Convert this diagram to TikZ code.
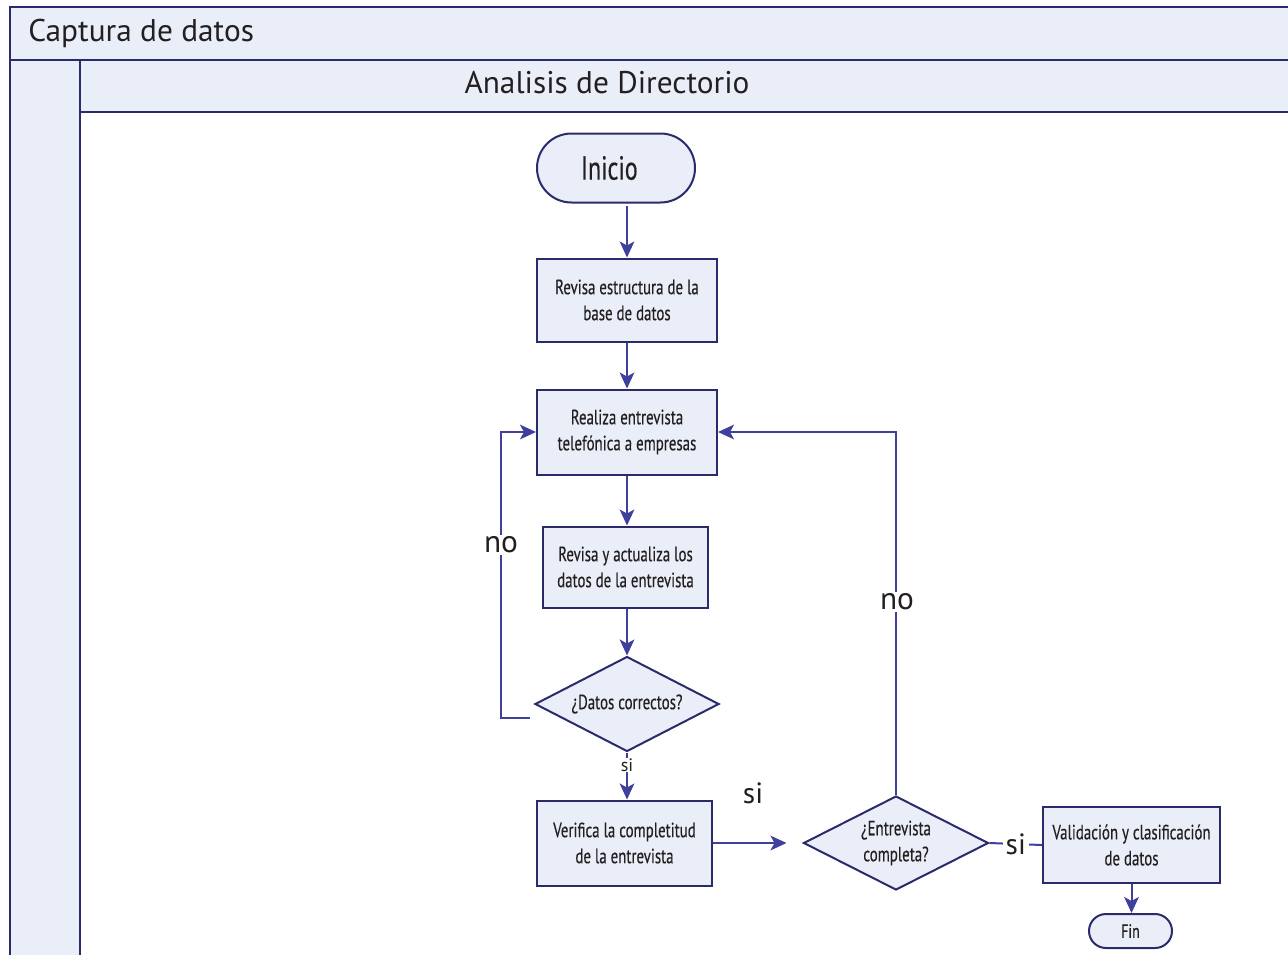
\documentclass[tikz,border=0pt]{standalone}
\usepackage{fontspec}
\setmainfont{PT Sans}
\newfontfamily\condf[FakeStretch=0.72,FakeBold=0.3]{PT Sans}
\usetikzlibrary{shapes.geometric,shapes.misc,arrows.meta}
\definecolor{bordc}{HTML}{2B2B6B}
\definecolor{fillc}{HTML}{E9EEF8}
\definecolor{linec}{HTML}{3F3F9C}
\definecolor{txtc}{HTML}{231F20}
\begin{document}
\begin{tikzpicture}[x=0.75pt,y=-0.75pt,
  box/.style={draw=bordc, fill=fillc, line width=1.5pt, inner sep=0pt, align=center,
    text=txtc, font=\condf\fontsize{15.5}{19.5}\selectfont},
  proc/.style={box, rectangle},
  term/.style={box, rounded rectangle},
  dec/.style={box, diamond},
  conn/.style={draw=linec, line width=1.5pt, -{Stealth[length=12pt,width=11pt,inset=3pt]}},
  plain/.style={draw=linec, line width=1.5pt},
  lbl/.style={fill=white, inner sep=1pt, text=txtc, font=\fontsize{23.5}{23.5}\selectfont},
  slbl/.style={fill=white, inner sep=0.5pt, text=txtc, font=\fontsize{13.5}{13.5}\selectfont},
  lane/.style={draw=bordc, line width=1.9pt, fill=fillc},
  head/.style={text=txtc, font=\fontsize{23.5}{23.5}\selectfont, inner sep=0pt},
]
\useasboundingbox (0,0) rectangle (1288,954);
\begin{scope}
\clip (0,0) rectangle (1288,954);
\path[fill=white] (0,0) rectangle (1288,954);
\path[lane] (10,7) rectangle (1310,60);
\path[lane] (10,60) rectangle (80,980);
\path[lane] (80,60) rectangle (1310,112);
\end{scope}
\node[head, anchor=base west] (pool) at (28,41) {Captura de datos};
\node[head, anchor=base] (lanet) at (607,93) {Analisis de Directorio};

\node[term, minimum width=118.5pt, minimum height=51.75pt,
  font=\condf\fontsize{25}{25}\selectfont] (ini) at (616,168) {Inicio\hspace*{10pt}};
\node[proc, minimum width=135pt, minimum height=62.25pt] (rev) at (627,300)
  {Revisa estructura de la\\base de datos};
\node[proc, minimum width=135pt, minimum height=63.75pt] (real) at (627,432)
  {Realiza entrevista\\telefónica a empresas};
\node[proc, minimum width=123.75pt, minimum height=60.75pt] (act) at (625.5,567)
  {Revisa y actualiza los\\datos de la entrevista};
\node[dec, minimum width=138pt, minimum height=71.25pt,
  label={[text=txtc, font=\condf\fontsize{15.5}{19.5}\selectfont]center:¿Datos correctos?}] (d1) at (627,704) {};
\node[proc, minimum width=131.25pt, minimum height=63.75pt] (ver) at (624.5,843)
  {Verifica la completitud\\de la entrevista};
\node[dec, minimum width=138.75pt, minimum height=70.5pt,
  label={[text=txtc, align=center, font=\condf\fontsize{15.5}{19.5}\selectfont]center:¿Entrevista\\completa?}] (d2) at (896,843) {};
\node[proc, minimum width=132.75pt, minimum height=57pt] (val) at (1131.5,845)
  {Validación y clasificación\\de datos};
\node[term, minimum width=62.25pt, minimum height=25.5pt,
  font=\condf\fontsize{14.5}{14.5}\selectfont] (fin) at (1130.5,931) {Fin};

\coordinate (nostart) at (530,718);
\coordinate (nocorner) at (501,718);

\draw[conn] ([yshift=-2pt]ini.south -| rev.north) -- (rev.north);
\draw[conn] (rev.south) -- (real.north);
\draw[conn] (real.south) -- (real.south |- act.north);
\draw[conn] (act.south -| d1.north) -- (d1.north);
\draw[conn] (nostart) -- (nocorner) |- (real.west);
\node[lbl] (no1) at (501,545) {no};
\draw[conn] (d1.south) -- node[slbl, pos=0.27] (si1) {si} (d1.south |- ver.north);
\draw[conn] (ver.east) -- ([xshift=-12pt]d2.west);
\node[lbl, font=\fontsize{22}{22}\selectfont] (si2) at (753,793) {si};
\draw[conn] (d2.north) |- (real.east);
\node[lbl] (no2) at (897,602) {no};
\draw[plain] (d2.east) -- node[lbl, inner sep=2pt, font=\fontsize{22}{22}\selectfont] (si3) {si} (val.west);
\draw[conn] (val.south) -- (val.south |- fin.north);
\end{tikzpicture}
\end{document}
